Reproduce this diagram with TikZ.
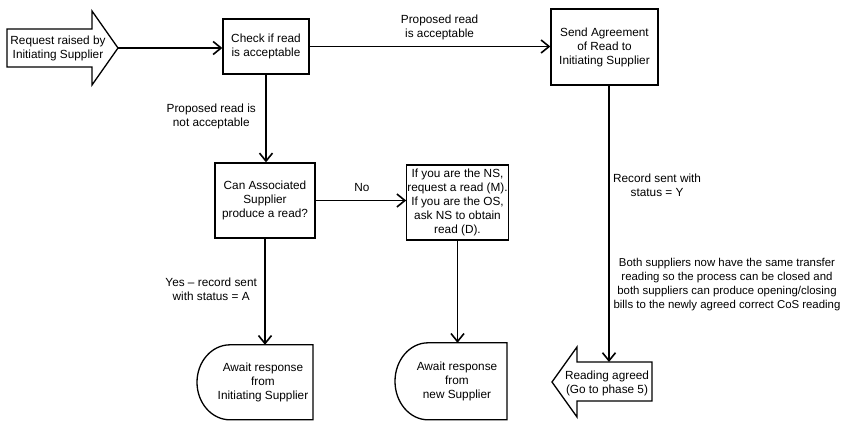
\documentclass[tikz,border=0pt]{standalone}
\usepackage{fontspec}
\setmainfont{Liberation Sans}
\usetikzlibrary{arrows.meta}

\tikzset{
  txt/.style={align=center, font=\fontsize{11.8}{14}\selectfont},
  box/.style={txt, draw, line width=1.3pt, inner sep=0.5pt},
  outline/.style={line width=1.3pt},
  conn/.style={line width=1.6pt, -{Straight Barb[length=8pt,width=13pt]}},
}

\begin{document}
\begin{tikzpicture}[x=1pt,y=-1pt]
    \useasboundingbox (0,0) rectangle (844,421);

    % start arrow
    \draw[outline] (7,29) -- (92,29) -- (92,11) -- (118,48) -- (92,85) -- (92,67) -- (7,67) -- cycle;
    \node[txt] (req) at (58,48) {Request raised by\\Initiating Supplier};
    \coordinate (reqtip) at (118,48);

    % process boxes
    \node[box, minimum width=86pt, minimum height=55pt] (check) at (266,46.5) {Check if read\\is acceptable};
    \node[box, minimum width=107pt, minimum height=76pt] (send) at (604.5,47) {Send Agreement\\of Read to\\Initiating Supplier};
    \node[box, minimum width=100pt, minimum height=75pt] (can) at (265,200.5) {Can Associated\\Supplier\\produce a read?};
    \node[box, minimum width=101pt, minimum height=75pt] (ns) at (457.5,202.5) {If you are the NS,\\request a read (M).\\If you are the OS,\\ask NS to obtain\\read (D).};

    % waiting states
    \node[txt, minimum height=75pt] (aw1) at (263,382.5) {Await response\\from\\Initiating Supplier};
    \draw[outline] (aw1.north) ++(50,0) -- ++(-83,0) arc[start angle=90, end angle=270, x radius=33pt, y radius=37.5pt] -- ++(83,0) -- cycle;
    \node[txt, minimum height=77pt] (aw2) at (457,381.5) {Await response\\from\\new Supplier};
    \draw[outline] (aw2.north) ++(50,0) -- ++(-79,0) arc[start angle=90, end angle=270, x radius=33pt, y radius=38.5pt] -- ++(79,0) -- cycle;

    % end arrow
    \draw[outline] (652,362) -- (577,362) -- (577,347) -- (552,382) -- (577,417) -- (577,401) -- (652,401) -- cycle;
    \node[txt] (agreed) at (607,383.5) {Reading agreed\\(Go to phase 5)};
    \coordinate (agreedtop) at (609,362);

    \node[txt, font=\fontsize{11.4}{14}\selectfont, inner sep=0pt] (note) at (727,285) {Both suppliers now have the same transfer\\reading so the process can be closed and\\both suppliers can produce opening/closing\\bills to the newly agreed correct CoS reading};

    % connectors
    \draw[conn] (reqtip) -- (reqtip -| check.west);
    \draw[conn] (check.east) -- (check.east -| send.west) node[txt, above=2pt, pos=0.54] {Proposed read\\is acceptable};
    \draw[conn] (check.south) -- (check.south |- can.north) node[txt, left=6pt, pos=0.48] {Proposed read is\\not acceptable};
    \draw[conn] (can.east) -- (can.east -| ns.west) node[txt, above=5pt, pos=0.51] {No};
    \draw[conn] (can.south) -- (can.south |- aw1.north) node[txt, left=4pt, pos=0.48] {Yes – record sent\\with status = A};
    \draw[conn] (ns.south) -- (ns.south |- aw2.north);
    \draw[conn] (send.south -| agreedtop) -- (agreedtop) node[txt, right=0pt, pos=0.36] {Record sent with\\status = Y};
\end{tikzpicture}
\end{document}
